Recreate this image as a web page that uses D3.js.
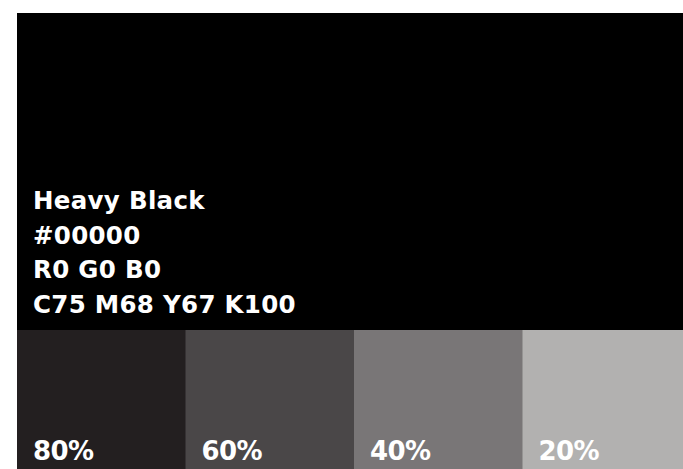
<!DOCTYPE html>
<html><head><meta charset="utf-8">
<script src="https://cdn.jsdelivr.net/npm/d3@7"></script>
<style>html,body{margin:0;padding:0;background:#fff;overflow:hidden}</style>
</head><body>
<svg id="c" width="683" height="469"></svg>
<script>
const titleLines = ["Heavy Black", "#00000", "R0 G0 B0", "C75 M68 Y67 K100"];
const tints = ["80%", "60%", "40%", "20%"];
const tintColors = ["#231f20", "#4a4748", "#797677", "#b2b1b0"];
const mainColor = "#000000";

const svg = d3.select("#c");
const x0 = 17, x1 = 691, y0 = 13, yMid = 330, y1 = 469;

svg.append("rect").attr("x", x0).attr("y", y0).attr("width", x1 - x0).attr("height", yMid - y0).attr("fill", mainColor);

const x = d3.scaleBand().domain(tints).range([x0, x1]).padding(0);
svg.selectAll("rect.sw").data(tints).join("rect").attr("class", "sw")
  .attr("x", d => x(d)).attr("y", yMid).attr("width", x.bandwidth() + 0.5).attr("height", y1 - yMid)
  .attr("fill", (d, i) => tintColors[i]);

const font = "'DejaVu Sans', 'Open Sans', sans-serif";
svg.selectAll("text.t").data(titleLines).join("text").attr("class", "t")
  .attr("x", 33).attr("y", (d, i) => 209 + i * 34.5)
  .attr("fill", "#fff").attr("font-family", font).attr("font-weight", 700).attr("font-size", 24.5)
  .attr("letter-spacing", 0.3)
  .text(d => d);

svg.selectAll("text.p").data(tints).join("text").attr("class", "p")
  .attr("x", d => x(d) + 16).attr("y", 460)
  .attr("fill", "#fff").attr("font-family", font).attr("font-weight", 700).attr("font-size", 26)
  .attr("letter-spacing", -0.6)
  .text(d => d);
</script>
</body></html>
